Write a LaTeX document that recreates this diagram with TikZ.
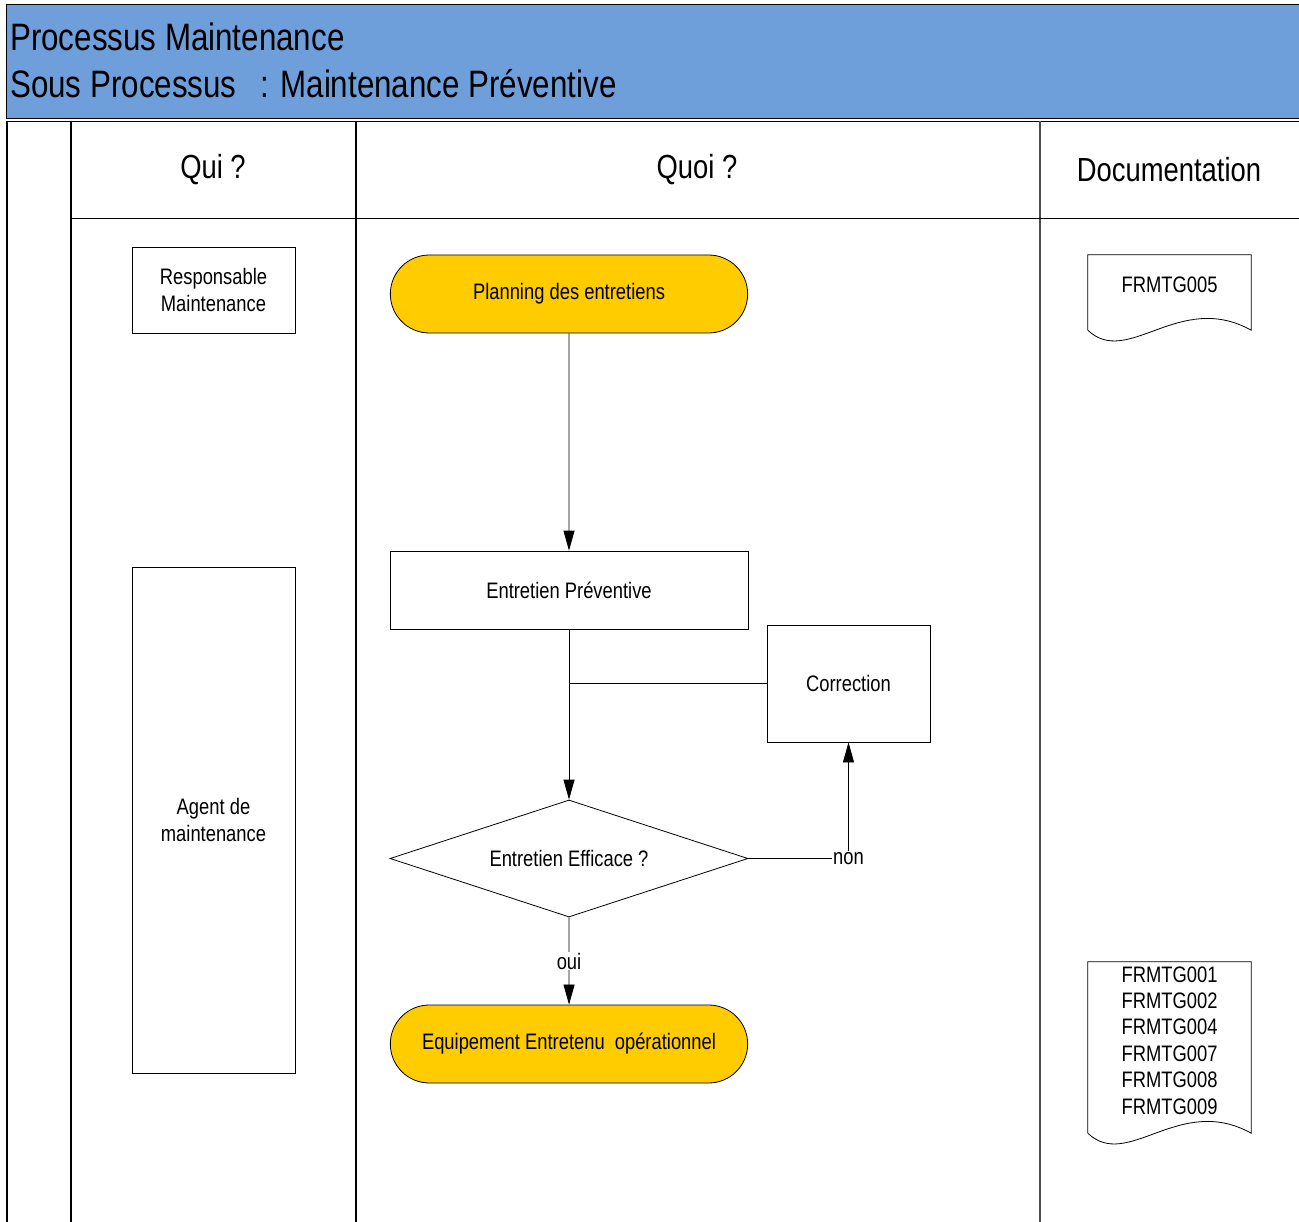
\documentclass[tikz,border=0pt]{standalone}
\usepackage{fontspec}
\setmainfont{Liberation Sans}[FakeStretch=0.82]
\usetikzlibrary{arrows.meta,shapes.geometric,shapes.misc}
\definecolor{bandeau}{RGB}{111,159,219}
\definecolor{jaune}{RGB}{255,204,0}
\tikzset{
  txt/.style={font=\fontsize{22.4}{27}\selectfont},
  boite/.style={rectangle,draw,line width=.8pt,minimum width=163pt,align=center,txt},
  etape/.style={rectangle,draw,line width=.8pt,minimum width=358pt,minimum height=78pt,txt},
  terminal/.style={rounded rectangle,fill=jaune,draw,line width=.8pt,minimum width=364pt,minimum height=78pt,txt},
  decision/.style={diamond,draw,line width=.8pt,aspect=3.06,minimum width=358pt,minimum height=117pt,inner sep=0pt,txt},
  docu/.style={rectangle,minimum width=163pt,inner ysep=0pt,txt},
  fleche/.style={line width=.8pt,-{Triangle[length=20pt,width=11pt]}},
  lbl/.style={fill=white,inner sep=1pt,txt},
  grille/.style={line width=1.5pt},
  entete/.style={font=\fontsize{33.4}{40}\selectfont},
  titre/.style={font=\fontsize{38.2}{44}\selectfont,inner sep=0pt,anchor=base west},
}
%document with a wavy bottom
\newcommand{\papier}[1]{\draw[line width=.8pt](#1.south west)--(#1.north west)--(#1.north east)--(#1.south east) .. controls +(-72,-40) and +(40,38) .. (#1.south west);}
\begin{document}
\begin{tikzpicture}[x=1pt,y=-1pt]
\useasboundingbox (0,0) rectangle (1299,1222);
%title band
\fill[bandeau](6,4) rectangle (1299,118);
\draw[line width=.8pt](1299,4)--(6,4)--(6,118)--(1299,118);
\draw[line width=.8pt](7,121)--(1299,121);
\node[titre] (titre1) at (10,51) {Processus Maintenance};
\node[titre] (titre2) at (10,98) {Sous Processus\hspace{15pt} : Maintenance Préventive};
%swimlanes
\draw[grille](7,121)--(7,1222);
\draw[grille](71,121)--(71,1222);
\draw[grille](356,121)--(356,1222);
\draw[grille,draw=black!70](1040,121)--(1040,1222);
\draw[line width=.8pt](71,218)--(1299,218);
\node[entete] (qui) at (213,170) {Qui ?};
\node[entete] (quoi) at (697,170) {Quoi ?};
\node[entete] (docs) at (1169,170) {Documentation};
%actors
\node[boite,minimum height=86pt] (resp) at (213.5,290) {Responsable\\Maintenance};
\node[boite,minimum height=506pt] (agent) at (213.5,820) {Agent de\\maintenance};
%flow
\node[terminal] (plan) at (569,294) {Planning des entretiens};
\node[etape] (prev) at (569,590) {Entretien Préventive};
\node[boite,minimum height=117pt] (corr) at (848.5,683.5) {Correction};
\node[decision] (test) at (569,858.5) {Entretien Efficace ?};
\node[terminal] (fin) at (569,1044) {Equipement Entretenu\hspace{5pt} opérationnel};
\draw[fleche](plan)--(prev);
\draw[fleche](prev)--(test);
\draw[line width=.8pt](corr.west)--(corr.west -| prev.south);
\draw[fleche](test.east)--(corr.south |- test.east) node[lbl]{non}--(corr.south);
\draw[fleche](test)--node[lbl]{oui}(fin);
%forms
\node[docu,text height=38pt,text depth=37pt] (doc1) at (1169.5,292.5) {FRMTG005};
\papier{doc1}
\node[docu,text height=20pt,text depth=151pt,font=\fontsize{22.4}{26.4}\selectfont] (doc2) at (1169.5,1047.5) {\begin{tabular}[t]{@{}c@{}}FRMTG001\\FRMTG002\\FRMTG004\\FRMTG007\\FRMTG008\\FRMTG009\end{tabular}};
\papier{doc2}
\end{tikzpicture}
\end{document}
